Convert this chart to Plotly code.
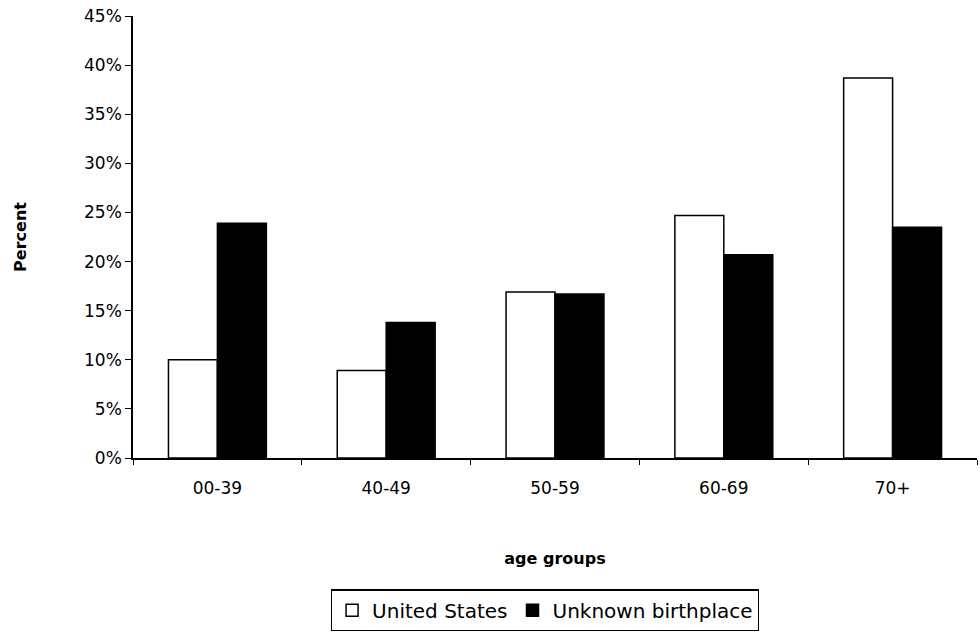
import plotly.graph_objects as go

# Share of cases by age group, split by place of birth
age_groups = ["00-39", "40-49", "50-59", "60-69", "70+"]
united_states = [10.0, 8.9, 16.9, 24.7, 38.7]
unknown_birthplace = [23.9, 13.8, 16.7, 20.7, 23.5]
y_ticks = [0, 5, 10, 15, 20, 25, 30, 35, 40, 45]
y_tick_labels = [f"{v}%" for v in y_ticks]

FONT = "DejaVu Sans, Arial, sans-serif"

fig = go.Figure()
fig.add_trace(go.Bar(
    x=age_groups, y=united_states, name="United States",
    marker=dict(color="white", line=dict(color="black", width=1.5)),
))
fig.add_trace(go.Bar(
    x=age_groups, y=unknown_birthplace, name="Unknown birthplace",
    marker=dict(color="black", line=dict(color="black", width=1.5)),
))

fig.update_layout(
    width=980, height=634,
    margin=dict(l=133, r=3, t=16, b=173),
    paper_bgcolor="white", plot_bgcolor="white",
    barmode="group", bargap=0.42, bargroupgap=0,
    font=dict(family=FONT, color="black", size=17),
    showlegend=True,
    legend=dict(
        orientation="h", x=0.488, y=-0.345, xanchor="center", yanchor="middle",
        bordercolor="black", borderwidth=1.2, bgcolor="white",
        font=dict(family=FONT, size=20, color="black"),
        itemwidth=30, tracegroupgap=0,
    ),
    xaxis=dict(
        showline=True, linecolor="black", linewidth=1.5,
        ticks="outside", tickson="boundaries", ticklen=5, tickcolor="black",
        ticklabelstandoff=14,
        tickfont=dict(family=FONT, size=17, color="black"),
        title=dict(text="<b>age groups</b>", font=dict(family=FONT, size=16), standoff=56),
        showgrid=False,
    ),
    yaxis=dict(
        range=[0, 45], tickmode="array", tickvals=y_ticks, ticktext=y_tick_labels,
        showline=True, linecolor="black", linewidth=1.5,
        ticks="outside", ticklen=6, tickcolor="black",
        tickfont=dict(family=FONT, size=17, color="black"),
        title=dict(text="<b>Percent</b>", font=dict(family=FONT, size=16), standoff=53),
        showgrid=False, zeroline=False,
    ),
)

fig.write_html("out.html")
